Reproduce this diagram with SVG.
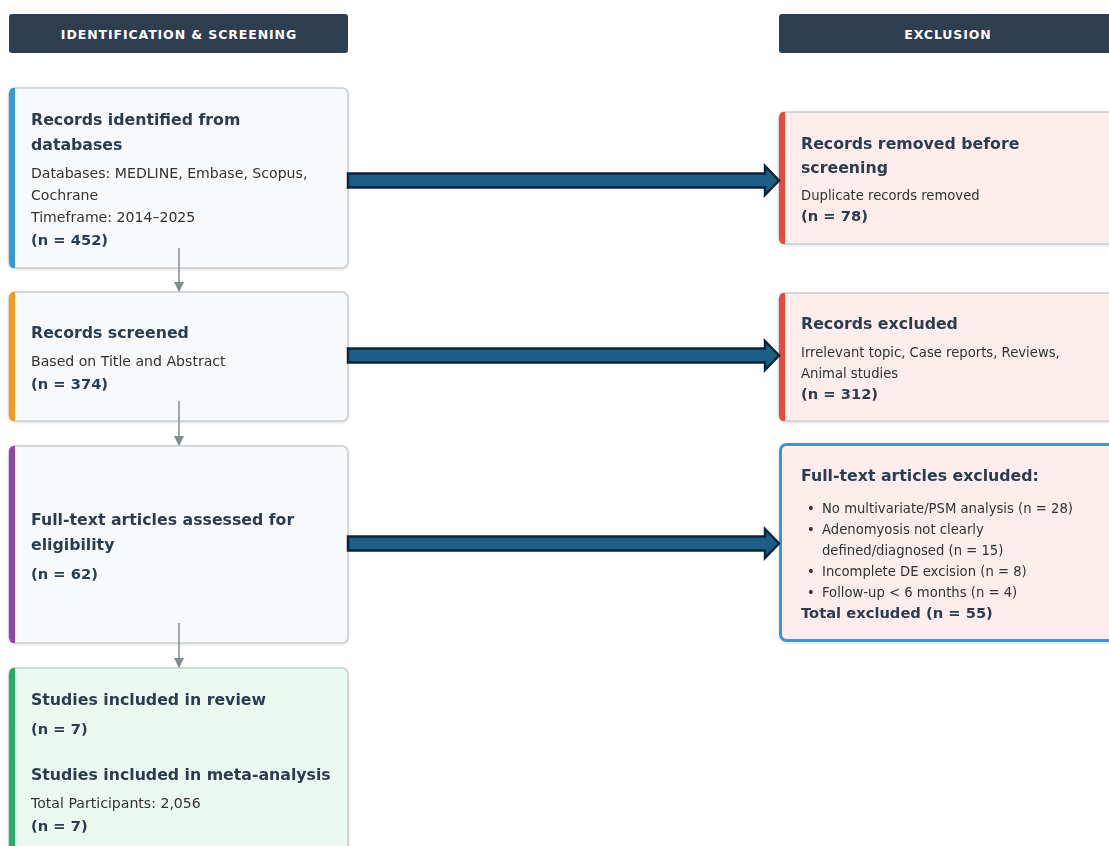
<svg xmlns="http://www.w3.org/2000/svg" width="1109" height="846" viewBox="0 0 1109 846">
<defs>
<style>
.hdr{fill:#2c3e50}
.htxt{font-family:"DejaVu Sans",Verdana,sans-serif;font-weight:bold;font-size:12.5px;letter-spacing:0.9px;fill:#fff;text-anchor:middle}
.box{fill:#f8f9fa;stroke:#c8cdd0;stroke-width:1.5}
.exc{fill:#fdeded;stroke:#c8cdd0;stroke-width:1.5}
.t{font-family:"DejaVu Sans",Verdana,sans-serif;font-weight:bold;font-size:15.75px;fill:#2c3e50}
.b{font-family:"DejaVu Sans",Verdana,sans-serif;font-size:14.1px;fill:#333}
.r{font-family:"DejaVu Sans",Verdana,sans-serif;font-size:13.2px;fill:#333}
.n{font-family:"DejaVu Sans",Verdana,sans-serif;font-weight:bold;font-size:14.7px;fill:#2c3e50}
.down{stroke:#7f8c8d;stroke-width:1.5;fill:none}
.big{fill:#1a5f85;stroke:#0f2435;stroke-width:2.5;stroke-linejoin:miter}
</style>
<marker id="ah" viewBox="0 0 10 10" refX="9" refY="5" markerWidth="11" markerHeight="10" markerUnits="userSpaceOnUse" orient="auto"><path d="M0,0 L10,5 L0,10 z" fill="#7f8c8d"/></marker>
<filter id="sh" x="-5%" y="-5%" width="110%" height="115%"><feDropShadow dx="0" dy="1" stdDeviation="1.5" flood-color="#000" flood-opacity="0.12"/></filter>
</defs>
<rect width="1109" height="846" fill="#fff"/>

<g id="hdr-left"><rect class="hdr" x="9" y="14" width="339" height="39" rx="3"/><text class="htxt" x="179" y="38.5">IDENTIFICATION &amp; SCREENING</text></g>
<g id="hdr-right"><rect class="hdr" x="779" y="14" width="339" height="39" rx="3"/><text class="htxt" x="948" y="38.5">EXCLUSION</text></g>

<g id="identified" filter="url(#sh)">
<rect class="box" x="9" y="88" width="339" height="180" rx="6"/>
<path d="M15,88 H13 A4,6 0 0 0 9,94 V262 A4,6 0 0 0 13,268 H15 Z" fill="#3498db"/>
<text class="t" x="31" y="125">Records identified from</text>
<text class="t" x="31" y="150">databases</text>
<text class="b" x="31" y="178">Databases: MEDLINE, Embase, Scopus,</text>
<text class="b" x="31" y="200">Cochrane</text>
<text class="b" x="31" y="222">Timeframe: 2014–2025</text>
<text class="n" x="31" y="245">(n = 452)</text>
</g>

<g id="screened" filter="url(#sh)">
<rect class="box" x="9" y="292" width="339" height="129" rx="6"/>
<path d="M15,292 H13 A4,6 0 0 0 9,298 V415 A4,6 0 0 0 13,421 H15 Z" fill="#f39c12"/>
<text class="t" x="31" y="338">Records screened</text>
<text class="b" x="31" y="366">Based on Title and Abstract</text>
<text class="n" x="31" y="389">(n = 374)</text>
</g>

<g id="fulltext" filter="url(#sh)">
<rect class="box" x="9" y="446" width="339" height="197" rx="6"/>
<path d="M15,446 H13 A4,6 0 0 0 9,452 V637 A4,6 0 0 0 13,643 H15 Z" fill="#8e44ad"/>
<text class="t" x="31" y="525">Full-text articles assessed for</text>
<text class="t" x="31" y="550">eligibility</text>
<text class="n" x="31" y="579">(n = 62)</text>
</g>

<g id="included" filter="url(#sh)">
<rect x="9" y="668" width="339" height="200" rx="6" fill="#eafaf1" stroke="#c8cdd0" stroke-width="1.5"/>
<path d="M15,668 H13 A4,6 0 0 0 9,674 V868 H15 Z" fill="#27ae60"/>
<text class="t" x="31" y="705">Studies included in review</text>
<text class="n" x="31" y="734">(n = 7)</text>
<text class="t" x="31" y="780">Studies included in meta-analysis</text>
<text class="b" x="31" y="808">Total Participants: 2,056</text>
<text class="n" x="31" y="831">(n = 7)</text>
</g>

<g id="removed" filter="url(#sh)">
<rect class="exc" x="779" y="112" width="339" height="132" rx="6"/>
<path d="M785,112 H783 A4,6 0 0 0 779,118 V238 A4,6 0 0 0 783,244 H785 Z" fill="#e74c3c"/>
<text class="t" x="801" y="149">Records removed before</text>
<text class="t" x="801" y="173">screening</text>
<text class="r" x="801" y="200">Duplicate records removed</text>
<text class="n" x="801" y="221">(n = 78)</text>
</g>

<g id="excluded" filter="url(#sh)">
<rect class="exc" x="779" y="293" width="339" height="128" rx="6"/>
<path d="M785,293 H783 A4,6 0 0 0 779,299 V415 A4,6 0 0 0 783,421 H785 Z" fill="#e74c3c"/>
<text class="t" x="801" y="329">Records excluded</text>
<text class="r" x="801" y="357">Irrelevant topic, Case reports, Reviews,</text>
<text class="r" x="801" y="378">Animal studies</text>
<text class="n" x="801" y="399">(n = 312)</text>
</g>

<g id="ft-excluded" filter="url(#sh)">
<rect x="780.5" y="444.5" width="340" height="196" rx="6" fill="#fdeded" stroke="#3498db" stroke-width="3"/>
<text class="t" x="801" y="481">Full-text articles excluded:</text>
<text class="r" x="807" y="513">•</text><text class="r" x="822" y="513">No multivariate/PSM analysis (n = 28)</text>
<text class="r" x="807" y="534">•</text><text class="r" x="822" y="534">Adenomyosis not clearly</text>
<text class="r" x="822" y="555">defined/diagnosed (n = 15)</text>
<text class="r" x="807" y="576">•</text><text class="r" x="822" y="576">Incomplete DE excision (n = 8)</text>
<text class="r" x="807" y="597">•</text><text class="r" x="822" y="597">Follow-up &lt; 6 months (n = 4)</text>
<text class="n" x="801" y="618">Total excluded (n = 55)</text>
</g>

<g id="connectors">
<line class="down" x1="179" y1="248" x2="179" y2="291" marker-end="url(#ah)"/>
<line class="down" x1="179" y1="401" x2="179" y2="445" marker-end="url(#ah)"/>
<line class="down" x1="179" y1="623" x2="179" y2="667" marker-end="url(#ah)"/>
<polygon class="big" points="348,173.5 765,173.5 765,166 779,180.5 765,195 765,187.5 348,187.5"/>
<polygon class="big" points="348,348.5 765,348.5 765,341 779,355.5 765,370 765,362.5 348,362.5"/>
<polygon class="big" points="348,536.5 765,536.5 765,529 779,543.5 765,558 765,550.5 348,550.5"/>
</g>
</svg>
